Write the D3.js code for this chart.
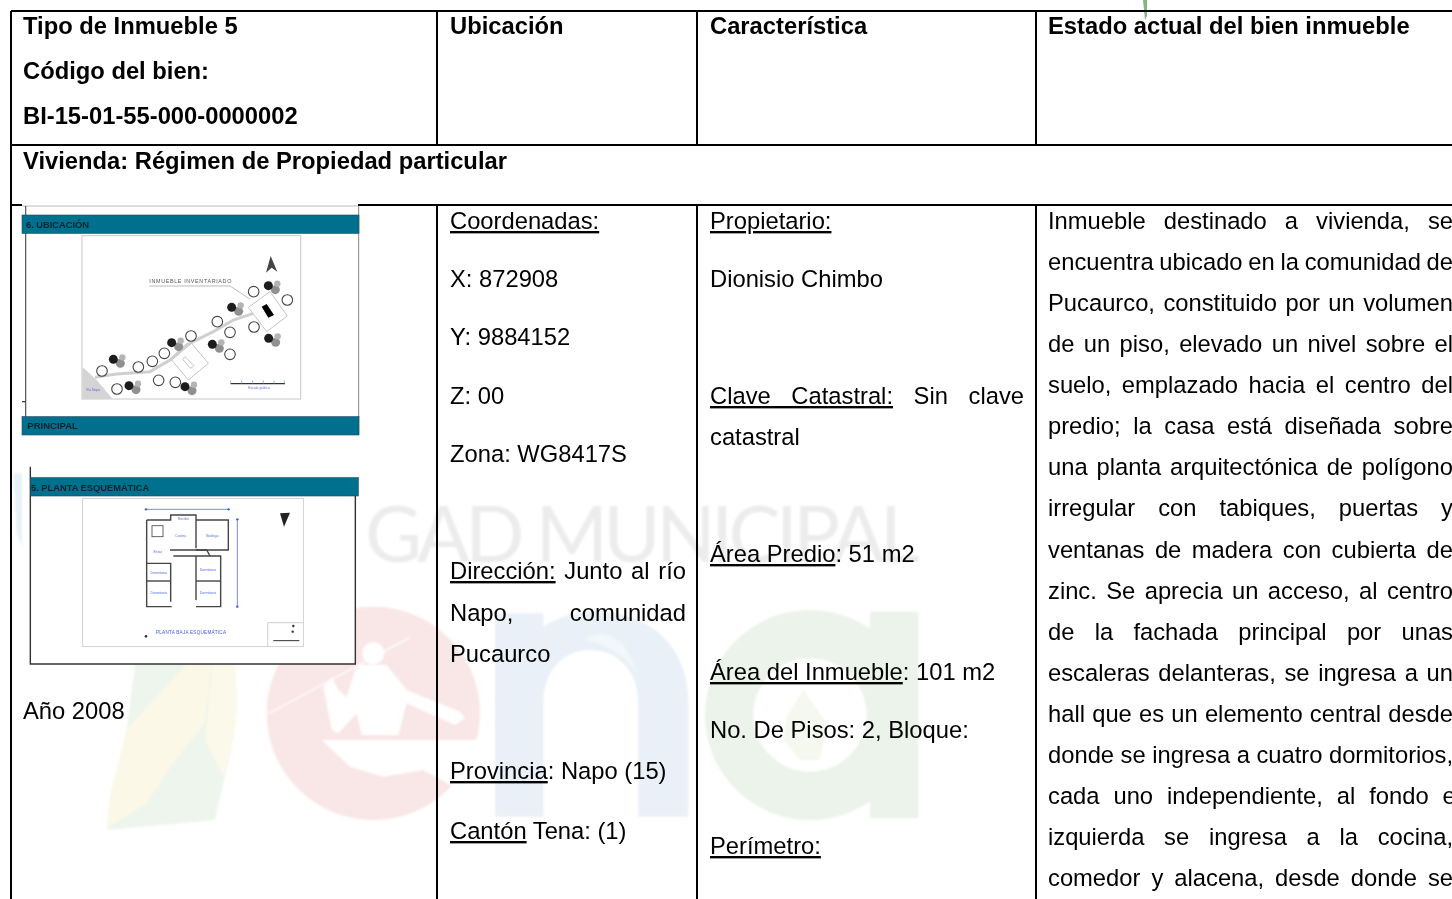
<!DOCTYPE html>
<html>
<head>
<meta charset="utf-8">
<style>
html, body { margin: 0; padding: 0; background: #fff; overflow: hidden; }
svg { display: block; }
text { font-family: "Liberation Sans", Arial, sans-serif; }
</style>
<script src="https://cdn.jsdelivr.net/npm/d3@7"></script>
</head>
<body>
<div id="sheet"></div>
<script>
// table text, [..] marks the underlined part of a line
var headerLeft = ["Tipo de Inmueble 5", "Código del bien:", "BI-15-01-55-000-0000002"];
var headerCols = ["Ubicación", "Característica", "Estado actual del bien inmueble"];
var rowTitle = "Vivienda: Régimen de Propiedad particular";
var yearText = "Año 2008";

var ubicacionLines = ["[Coordenadas:]", "X: 872908", "Y: 9884152", "Z: 00", "Zona: WG8417S",
  "[Dirección:] Junto al río", "Napo, comunidad", "Pucaurco", "[Provincia]: Napo (15)", "[Cantón] Tena: (1)"];
var ubicacionBase = [229, 287, 345, 404, 462, 579, 621, 662, 779, 839];
var ubicacionJustified = [5, 6];

var caracLines = ["[Propietario:]", "Dionisio Chimbo", "[Clave Catastral:] Sin clave", "catastral",
  "[Área Predio]: 51 m2", "[Área del Inmueble]: 101 m2", "No. De Pisos: 2, Bloque:", "[Perímetro:]"];
var caracBase = [229, 287, 404, 445, 562, 680, 738, 854];
var caracJustified = [2];

var estadoLines = ["Inmueble destinado a vivienda, se", "encuentra ubicado en la comunidad de",
  "Pucaurco, constituido por un volumen", "de un piso, elevado un nivel sobre el",
  "suelo, emplazado hacia el centro del", "predio; la casa está diseñada sobre",
  "una planta arquitectónica de polígono", "irregular con tabiques, puertas y",
  "ventanas de madera con cubierta de", "zinc. Se aprecia un acceso, al centro",
  "de la fachada principal por unas", "escaleras delanteras, se ingresa a un",
  "hall que es un elemento central desde", "donde se ingresa a cuatro dormitorios,",
  "cada uno independiente, al fondo el", "izquierda se ingresa a la cocina,",
  "comedor y alacena, desde donde se"];

// sketch 1 (site plan), values read in picture units of the crop
var siteOpen = [[306,513],[415,501],[457,484],[493,460],[573,408],[652,365],[690,397],[761,275],[862,300],[762,381],[690,463],[476,541],[526,547],[351,567]];
var siteTrees = [[340,478],[515,428],[695,322],[805,257],[806,415],[637,433],[555,560],[387,557]];
var siteRoad = [[285,532],[350,522],[450,515],[510,480],[560,435],[640,395],[700,360],[760,340]];
var siteLots = [[[810,275],[862,348],[800,395],[745,322]], [[575,430],[625,490],[565,540],[515,480]], [[555,470],[582,497],[572,505],[548,478]]];
var siteHouse = [[800,312],[822,345],[805,353],[785,320]];
var siteWedge = [[247,500],[247,597],[338,597],[290,540]];
var siteNorth = [[812,168],[832,215],[815,203],[798,218]];

// sketch 2 (floor plan)
var planWalls = [
  [[440,210],[512,210],[512,195],[588,195],[588,295]],
  [[588,210],[685,210],[685,300],[588,300]],
  [[440,210],[440,470],[515,470]],
  [[440,340],[512,340],[512,455]],
  [[440,393],[512,393]],
  [[520,318],[662,318],[662,470],[588,470]],
  [[588,318],[588,450]],
  [[588,393],[662,393]],
  [[510,300],[620,300],[630,318]]
];
var planRoomNames = ["Recibir","Cocina","Bodega","Estar","Dormitorio","Dormitorio","Dormitorio","Dormitorio"];
var planRoomSpots = [[550,205],[542,257],[637,257],[473,305],[476,368],[476,428],[624,358],[624,428]];

var width = 1452, height = 899;

var svg = d3.select("#sheet").append("svg")
  .attr("width", width)
  .attr("height", height);

var defs = svg.append("defs");
defs.append("filter").attr("id", "soft").append("feGaussianBlur").attr("stdDeviation", 0.6);
defs.append("filter").attr("id", "softer").append("feGaussianBlur").attr("stdDeviation", 1.2);
defs.append("filter").attr("id", "textSoft").append("feGaussianBlur").attr("stdDeviation", 0.3);

var lineGen = d3.line();

/********************************************************************************/
// watermark behind the table

var mark = svg.append("g").attr("filter", "url(#softer)");

// crop units -> page pixels
function cropScale(x0, y0) {
  return {
    x: d3.scaleLinear().domain([0, 3]).range([x0, x0 + 1]),
    y: d3.scaleLinear().domain([0, 3]).range([y0, y0 + 1])
  };
}

function markPath(g, scale, pts, fill) {
  g.append("path")
    .attr("d", lineGen(pts.map(p => [scale.x(p[0]), scale.y(p[1])])) + "Z")
    .attr("fill", fill);
}

var wm = cropScale(90, 590);   // leaf and red e
var leafPts = [[135,222],[435,222],[442,350],[430,450],[375,690],[50,720],[60,620],[110,420]];
markPath(mark, wm, leafPts, "#edf5ec");
markPath(mark, wm, [[110,420],[180,340],[290,222],[365,222],[345,400],[250,520],[170,640],[50,715],[60,620]], "#fbf8e8");
markPath(mark, wm, [[368,222],[435,222],[442,350],[430,450],[400,560],[345,450]], "#fbf9ea");

var eCenter = [850, 370], eR = 320;
mark.append("circle")
  .attr("cx", wm.x(eCenter[0])).attr("cy", wm.y(eCenter[1]))
  .attr("r", wm.x(eR) - wm.x(0))
  .attr("fill", "#f9e6e6");

// e cut out and the paddler
markPath(mark, wm, [[695,450],[1180,450],[1180,610],[1090,590],[1000,540],[880,560],[780,530]], "#fff");
mark.append("circle").attr("cx", wm.x(850)).attr("cy", wm.y(190)).attr("r", 11).attr("fill", "#fff");
markPath(mark, wm, [[800,225],[890,225],[950,300],[1110,365],[1125,385],[1095,405],[950,340],[925,435],[815,435],[800,370],[745,430],[725,420],[700,290],[725,262],[745,300],[770,320]], "#fff");
mark.append("path")
  .attr("d", lineGen([[wm.x(528), wm.y(375)], [wm.x(960), wm.y(142)]]))
  .attr("stroke", "#fff").attr("stroke-width", 1.4);

var wn = cropScale(450, 590);  // blue n and green a
mark.append("path")
  .attr("d", "M135,680 V70 H280 V110 C340,70 430,55 500,70 C640,100 715,200 715,340 V680 H565 V340 C565,250 510,180 420,180 C340,180 280,240 280,340 V680 Z")
  .attr("transform", "translate(450,590) scale(0.3333)")
  .attr("fill", "#e9f0f7");
mark.append("path")
  .attr("d", "M400,150 C450,110 530,130 560,250 C520,190 460,160 400,150 Z")
  .attr("transform", "translate(450,590) scale(0.3333)")
  .attr("fill", "#f0f8fb");

mark.append("circle")
  .attr("cx", wn.x(1080)).attr("cy", wn.y(375))
  .attr("r", (315 + 170) / 2 / 3)
  .attr("fill", "none")
  .attr("stroke", "#ebf3ea")
  .attr("stroke-width", (315 - 170) / 3);
mark.append("rect")
  .attr("x", wn.x(1260)).attr("y", wn.y(65))
  .attr("width", 145 / 3).attr("height", 620 / 3)
  .attr("fill", "#ebf3ea");
markPath(mark, wn, [[1060,300],[1130,400],[1110,510],[1050,510],[1000,450],[1010,380]], "#f5f8ee");

// left edge tint and the green sliver on top
markPath(mark, cropScale(0, 450), [[40,70],[66,70],[66,290],[50,250]], "#e8f1f7");
svg.append("path")
  .attr("d", "M1143,0 L1147,0 L1147,16 L1145,20 Z")
  .attr("fill", "#7fb77f");

svg.append("text")
  .attr("x", 365).attr("y", 562)
  .attr("textLength", 555)
  .attr("lengthAdjust", "spacing")
  .attr("font-size", 78)
  .style("font-family", "Lato, 'Noto Sans', sans-serif")
  .style("font-weight", 400)
  .attr("fill", "#ececec")
  .attr("filter", "url(#softer)")
  .text("GAD MUNICIPAL");

/********************************************************************************/
// sketch 1

var s1 = svg.append("g").attr("filter", "url(#soft)");
var c1 = cropScale(0, 200);
var px = p => [c1.x(p[0]), c1.y(p[1])];

s1.append("rect").attr("x", c1.x(66)).attr("y", c1.y(18)).attr("width", 336).attr("height", 216).attr("fill", "#fff");
s1.append("path").attr("d", lineGen([[c1.x(1076), c1.y(18)], [c1.x(1076), c1.y(705)]])).attr("stroke", "#888").attr("stroke-width", 1);
s1.append("path").attr("d", lineGen([[c1.x(66), c1.y(18)], [c1.x(1076), c1.y(18)]])).attr("stroke", "#bbb").attr("stroke-width", 1);
s1.append("path").attr("d", lineGen([[c1.x(77), c1.y(18)], [c1.x(77), c1.y(650)]])).attr("stroke", "#555").attr("stroke-width", 1.2);
s1.append("path").attr("d", lineGen([[c1.x(66), c1.y(605)], [c1.x(77), c1.y(605)]])).attr("stroke", "#333").attr("stroke-width", 1.2);

s1.selectAll("rect.band").data([[45, 100], [650, 705]]).enter().append("rect")
  .attr("class", "band")
  .attr("x", c1.x(66)).attr("width", 337)
  .attr("y", d => c1.y(d[0]))
  .attr("height", d => (d[1] - d[0]) / 3)
  .attr("fill", "#03708f")
  .attr("stroke", "#14465a").attr("stroke-width", 0.6);

s1.append("text").attr("x", c1.x(78)).attr("y", c1.y(84)).attr("font-size", 9.3).attr("font-weight", "bold").attr("fill", "#10222c").text("6. UBICACIÓN");
s1.append("text").attr("x", c1.x(82)).attr("y", c1.y(688)).attr("font-size", 9.5).attr("font-weight", "bold").attr("fill", "#10222c").text("PRINCIPAL");

s1.append("rect").attr("x", c1.x(246)).attr("y", c1.y(107)).attr("width", 656 / 3).attr("height", 490 / 3)
  .attr("fill", "#fff").attr("stroke", "#c8c8c8").attr("stroke-width", 1);
s1.append("path").attr("d", lineGen(siteWedge.map(px)) + "Z").attr("fill", "#d4d4d4");
s1.append("path").attr("d", lineGen(siteRoad.map(px))).attr("fill", "none").attr("stroke", "#cfcfcf").attr("stroke-width", 3);
s1.selectAll("path.lot").data(siteLots).enter().append("path")
  .attr("class", "lot")
  .attr("d", d => lineGen(d.map(px)) + "Z")
  .attr("fill", "#fff").attr("stroke", "#c4c4c4").attr("stroke-width", 1);
s1.append("path").attr("d", lineGen(siteHouse.map(px)) + "Z").attr("fill", "#000");

s1.selectAll("circle.open").data(siteOpen).enter().append("circle")
  .attr("class", "open")
  .attr("cx", d => c1.x(d[0])).attr("cy", d => c1.y(d[1])).attr("r", 5.3)
  .attr("fill", "#fff").attr("stroke", "#444").attr("stroke-width", 1.1);

var tree = s1.selectAll("g.tree").data(siteTrees).enter().append("g")
  .attr("class", "tree")
  .attr("transform", d => "translate(" + c1.x(d[0]) + "," + c1.y(d[1]) + ")");
tree.append("circle").attr("cx", 7).attr("cy", 4).attr("r", 4.5).attr("fill", "#909090");
tree.append("circle").attr("cx", 9).attr("cy", -2).attr("r", 3.2).attr("fill", "#b4b4b4");
tree.append("circle").attr("cx", 0).attr("cy", 0).attr("r", 4.5).attr("fill", "#1c1c1c");

s1.append("text").attr("x", c1.x(448)).attr("y", c1.y(248)).attr("font-size", 5.4).attr("textLength", 82).attr("fill", "#555").text("INMUEBLE INVENTARIADO");
s1.append("path").attr("d", lineGen([[448,258],[690,258],[750,297]].map(px))).attr("fill", "none").attr("stroke", "#aaa").attr("stroke-width", 0.8);
s1.append("path").attr("d", lineGen(siteNorth.map(px)) + "Z").attr("fill", "#444");
s1.append("path").attr("d", lineGen([[692,551],[855,551]].map(px))).attr("stroke", "#333").attr("stroke-width", 1.3);
s1.selectAll("path.scaleTick").data([692, 725, 758, 790, 822, 853]).enter().append("path")
  .attr("class", "scaleTick")
  .attr("d", d => lineGen([[d, 541], [d, 552]].map(px)))
  .attr("stroke", "#6a7ad0").attr("stroke-width", 0.6);
s1.append("text").attr("x", c1.x(745)).attr("y", c1.y(567)).attr("font-size", 3.4).attr("fill", "#5a6fe0").text("Escala gráfica");
s1.append("text").attr("x", c1.x(258)).attr("y", c1.y(572)).attr("font-size", 3.4).attr("fill", "#5a6fe0").text("Vía Napo");

/********************************************************************************/
// sketch 2

var s2 = svg.append("g").attr("filter", "url(#soft)");
var c2 = cropScale(0, 450);
var py = p => [c2.x(p[0]), c2.y(p[1])];

s2.append("rect").attr("x", c2.x(91)).attr("y", c2.y(50)).attr("width", 325).attr("height", 197).attr("fill", "#fff");
s2.append("path").attr("d", lineGen([[91,50],[91,642],[1066,642],[1066,138]].map(py))).attr("fill", "none").attr("stroke", "#333").attr("stroke-width", 1.4);
s2.append("rect").attr("x", c2.x(91)).attr("y", c2.y(83)).attr("width", 328).attr("height", 55 / 3)
  .attr("fill", "#03708f").attr("stroke", "#14465a").attr("stroke-width", 0.6);
s2.append("text").attr("x", c2.x(93)).attr("y", c2.y(122)).attr("font-size", 9.3).attr("font-weight", "bold").attr("fill", "#10222c").text("5. PLANTA ESQUEMÁTICA");
s2.append("rect").attr("x", c2.x(248)).attr("y", c2.y(145)).attr("width", 662 / 3).attr("height", 445 / 3)
  .attr("fill", "#fff").attr("stroke", "#c8c8c8").attr("stroke-width", 0.8);

s2.selectAll("path.wall").data(planWalls).enter().append("path")
  .attr("class", "wall")
  .attr("d", d => lineGen(d.map(py)))
  .attr("fill", "none").attr("stroke", "#444").attr("stroke-width", 1.4);
s2.append("rect").attr("x", c2.x(456)).attr("y", c2.y(227)).attr("width", 11).attr("height", 11)
  .attr("fill", "#fff").attr("stroke", "#555").attr("stroke-width", 0.9);
s2.append("path").attr("d", lineGen([[438,178],[686,178]].map(py))).attr("stroke", "#3f5ae0").attr("stroke-width", 0.7);
s2.append("path").attr("d", lineGen([[712,208],[712,470]].map(py))).attr("stroke", "#3f5ae0").attr("stroke-width", 0.7);
s2.selectAll("circle.dim").data([[438,178],[686,178],[712,208],[712,470]]).enter().append("circle")
  .attr("class", "dim")
  .attr("cx", d => c2.x(d[0])).attr("cy", d => c2.y(d[1])).attr("r", 1.2).attr("fill", "#3f5ae0");
s2.selectAll("text.room").data(planRoomNames).enter().append("text")
  .attr("class", "room")
  .attr("x", (d, i) => c2.x(planRoomSpots[i][0]))
  .attr("y", (d, i) => c2.y(planRoomSpots[i][1]) + 1.2)
  .attr("text-anchor", "middle")
  .attr("font-size", 3.6).attr("fill", "#5a6fe0")
  .text(d => d);
s2.append("text").attr("x", c2.x(468)).attr("y", c2.y(552)).attr("font-size", 4.6).attr("textLength", 70).attr("fill", "#3f5ae0").text("PLANTA BAJA ESQUEMÁTICA");
s2.append("path").attr("d", lineGen([[840,190],[870,188],[852,230]].map(py)) + "Z").attr("fill", "#222");
s2.append("circle").attr("cx", c2.x(438)).attr("cy", c2.y(559)).attr("r", 1.3).attr("fill", "#333");
s2.append("path").attr("d", lineGen([[803,590],[803,518],[910,518]].map(py))).attr("fill", "none").attr("stroke", "#bbb").attr("stroke-width", 0.7);
s2.append("path").attr("d", lineGen([[820,572],[898,572]].map(py))).attr("stroke", "#333").attr("stroke-width", 1);
s2.selectAll("circle.leg").data([[880,528],[878,545]]).enter().append("circle")
  .attr("class", "leg")
  .attr("cx", d => c2.x(d[0])).attr("cy", d => c2.y(d[1])).attr("r", 1.2).attr("fill", "#333");

/********************************************************************************/
// table grid

var rowsY = [11, 145, 205];
var colsX = [437, 697, 1036];
var leftX = 11;

var grid = svg.append("g").attr("stroke", "#000").attr("stroke-width", 1.6).attr("shape-rendering", "crispEdges");
rowsY.forEach(y => {
  // the third rule stops where the first sketch covers it
  var cut = y === 205 ? 358 : leftX;
  grid.append("line").attr("x1", cut).attr("x2", width).attr("y1", y).attr("y2", y);
});
grid.append("line").attr("x1", leftX).attr("x2", 22).attr("y1", 205).attr("y2", 205);
grid.append("line").attr("x1", leftX).attr("x2", leftX).attr("y1", 11).attr("y2", height);
colsX.forEach(x => {
  grid.append("line").attr("x1", x).attr("x2", x).attr("y1", 11).attr("y2", 145);
  grid.append("line").attr("x1", x).attr("x2", x).attr("y1", 205).attr("y2", height);
});

/********************************************************************************/
// table text

var fontSize = 23.75;
var words = svg.append("g").attr("filter", "url(#textSoft)").attr("font-size", fontSize).attr("fill", "#000");

function putLine(str, x, y, right, bold) {
  var t = words.append("text").attr("x", x).attr("y", y).attr("font-weight", bold ? "bold" : "normal");
  str.split(/(\[.*?\])/).filter(s => s.length).forEach(part => {
    var under = part[0] === "[";
    t.append("tspan")
      .style("text-decoration", under ? "underline" : "none")
      .text(under ? part.slice(1, -1) : part);
  });
  if (right) {
    var gaps = str.split(" ").length - 1;
    var len = t.node().getComputedTextLength();
    if (gaps > 0) t.attr("word-spacing", (right - x - len) / gaps);
  }
  return t;
}

headerLeft.forEach((d, i) => putLine(d, 23, [34, 79, 124][i], null, true));
headerCols.forEach((d, i) => putLine(d, [450, 710, 1048][i], 34, null, true));
putLine(rowTitle, 23, 169, null, true);
putLine(yearText, 23, 719);

ubicacionLines.forEach((d, i) => putLine(d, 450, ubicacionBase[i], ubicacionJustified.includes(i) ? 686 : null));
caracLines.forEach((d, i) => putLine(d, 710, caracBase[i], caracJustified.includes(i) ? 1024 : null));

var estadoY = d3.scaleLinear().domain([0, estadoLines.length - 1]).range([229, 886]);
estadoLines.forEach((d, i) => {
  // line 14 runs past the page edge like in the scan
  putLine(d, 1048, estadoY(i), i === 14 ? 1461 : 1453);
});
</script>
</body>
</html>
